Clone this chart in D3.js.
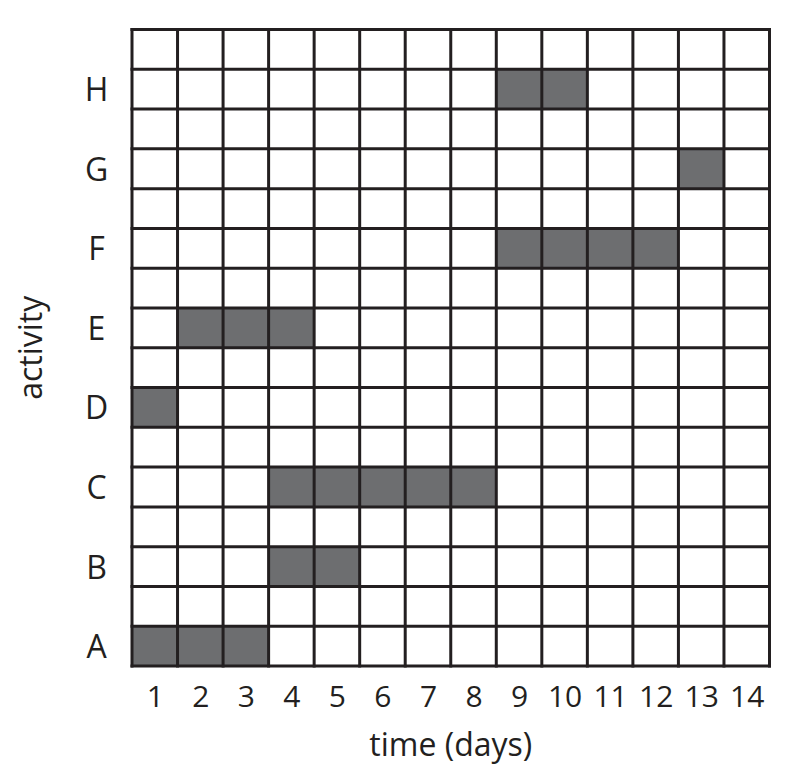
<!DOCTYPE html>
<html>
<head>
<meta charset="utf-8">
<script src="https://cdn.jsdelivr.net/npm/d3@7"></script>
<style>
  body { margin: 0; background: #fff; }
  text { font-family: "Open Sans", "DejaVu Sans", sans-serif; fill: #231f20; }
</style>
</head>
<body>
<script>
var svgWidth = 788;
var svgHeight = 779;

// activity rows, bottom to top
var activities = ["A", "B", "C", "D", "E", "F", "G", "H"];
// first shaded day and number of days for each activity
var startDay = [1, 4, 4, 1, 2, 9, 13, 9];
var duration = [3, 2, 5, 1, 3, 4, 1, 2];
var days = d3.range(1, 15);

var grid = { left: 132, right: 769.5, top: 29.5, bottom: 666 };
var rowCount = 16;

var svg = d3.select("body")
  .append("svg")
  .attr("width", svgWidth)
  .attr("height", svgHeight);

var x = d3.scaleLinear().domain([0, days.length]).range([grid.left, grid.right]);
var y = d3.scaleLinear().domain([0, rowCount]).range([grid.bottom, grid.top]);

// shaded cells
var cells = [];
activities.forEach(function(a, i) {
  for (var k = 0; k < duration[i]; k++) {
    cells.push({ row: i * 2, day: startDay[i] + k });
  }
});

svg.append("g").selectAll("rect")
  .data(cells)
  .enter()
  .append("rect")
  .attr("x", d => x(d.day - 1))
  .attr("y", d => y(d.row + 1))
  .attr("width", d => x(d.day) - x(d.day - 1))
  .attr("height", d => y(d.row) - y(d.row + 1))
  .attr("fill", "#6d6e70");

// grid lines
var lines = svg.append("g")
  .attr("stroke", "#231f20")
  .attr("stroke-width", 3)
  .attr("stroke-linecap", "square");

lines.selectAll(".v")
  .data(d3.range(0, days.length + 1))
  .enter()
  .append("line")
  .attr("x1", d => x(d)).attr("x2", d => x(d))
  .attr("y1", y(0)).attr("y2", y(rowCount));

lines.selectAll(".h")
  .data(d3.range(0, rowCount + 1))
  .enter()
  .append("line")
  .attr("y1", d => y(d)).attr("y2", d => y(d))
  .attr("x1", x(0)).attr("x2", x(days.length));

// x tick labels
var xAxis = d3.axisBottom(d3.scaleLinear().domain([0.5, days.length + 0.5]).range([grid.left, grid.right]))
  .tickValues(days)
  .tickSize(0)
  .tickPadding(0)
  .tickFormat(d3.format("d"));

var xg = svg.append("g")
  .attr("transform", "translate(0, 707)")
  .call(xAxis);
xg.select(".domain").remove();
xg.selectAll("text")
  .attr("dy", 0)
  .attr("y", 0)
  .style("font-size", "30px")
  .style("font-family", "'Open Sans', sans-serif")
  .attr("fill", "#231f20");

// y labels
var yAxis = d3.axisLeft(d3.scaleLinear().domain([0, rowCount]).range([grid.bottom, grid.top]))
  .tickValues(activities.map((a, i) => i * 2 + 0.5))
  .tickSize(0)
  .tickPadding(0)
  .tickFormat((d, i) => activities[i]);

var yg = svg.append("g")
  .attr("transform", "translate(96.5, 0)")
  .call(yAxis);
yg.select(".domain").remove();
yg.selectAll("text")
  .attr("text-anchor", "middle")
  .attr("x", 0)
  .attr("dy", "0.36em")
  .style("font-size", "32px")
  .style("font-family", "'Open Sans', sans-serif")
  .attr("fill", "#231f20");

// axis titles
svg.append("text")
  .attr("x", (grid.left + grid.right) / 2)
  .attr("y", 756)
  .attr("text-anchor", "middle")
  .style("font-size", "32px")
  .text("time (days)");

svg.append("text")
  .attr("transform", "translate(42, " + ((grid.top + grid.bottom) / 2) + ") rotate(-90)")
  .attr("text-anchor", "middle")
  .style("font-size", "32px")
  .text("activity");
</script>
</body>
</html>
